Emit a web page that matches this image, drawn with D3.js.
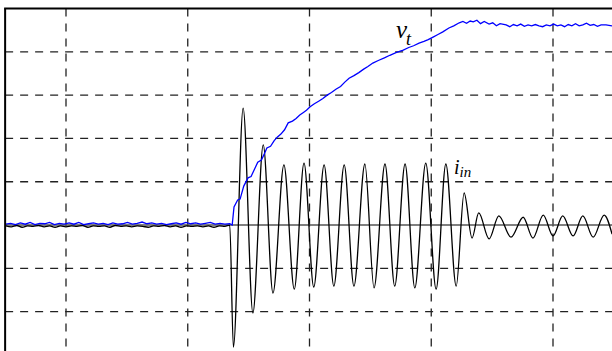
<!DOCTYPE html>
<html lang="en">
<head>
    <meta charset="UTF-8">
    <title>vt / iin</title>
    <script src="https://d3js.org/d3.v7.min.js"></script>
    <style>
        body { margin: 0; background: #fff; }
        .lbl { font-family: "Liberation Serif", "Times New Roman", "DejaVu Serif", serif; font-style: italic; }
    </style>
</head>
<body>
<script>
    // 网格刻度（时间：格, 幅值：格）
    var timeTicks = [0, 20, 40, 60, 80];
    var levelTicks = [-2, -1, 1, 2, 3, 4];

    // v_t 曲线 [t, v]
    var vtPoints = [
        [-9.9, 0.02], [-9.1, 0.04], [-8.3, 0.01], [-7.5, 0.05], [-6.7, 0.02], [-5.9, 0.06], [-5.1, 0.01],
        [-4.3, 0.04], [-3.5, 0.03], [-2.7, 0.06], [-1.9, 0.01], [-1.1, 0.04], [-0.3, 0.02], [0.5, 0.05],
        [1.3, 0.02], [2.1, 0.06], [2.9, 0.01], [3.7, 0.03], [4.5, 0.05], [5.3, 0.02], [6.1, 0.04],
        [6.9, 0.01], [7.7, 0.05], [8.5, 0.02], [9.3, 0.03], [10.1, 0.06], [10.9, 0.02], [11.7, 0.04],
        [12.5, 0.07], [13.3, 0.03], [14.1, 0.05], [14.9, 0.02], [15.7, 0.04], [16.5, 0.01], [17.3, 0.03],
        [18.1, 0.05], [18.9, 0.02], [19.7, 0.06], [20.5, 0.03], [21.3, 0.05], [22.1, 0.02], [22.9, 0.04],
        [23.7, 0.06], [24.5, 0.02], [25.3, 0.04], [26.1, 0.02], [26.9, 0.03], [27.3, 0.0],
        [27.6, 0.42], [28.2, 0.58], [28.6, 0.6], [29.2, 0.9], [29.9, 1.09], [30.4, 1.12], [31.0, 1.3],
        [31.5, 1.45], [32.1, 1.5], [32.5, 1.62], [33.0, 1.78], [33.6, 1.82], [34.2, 1.95], [34.7, 2.03],
        [35.3, 2.1], [35.9, 2.2], [36.5, 2.36], [37.2, 2.4], [37.8, 2.46], [38.4, 2.54], [39.0, 2.6],
        [39.5, 2.65], [40.1, 2.73], [40.8, 2.8], [41.5, 2.86], [42.2, 2.92], [42.9, 3.0], [43.6, 3.06],
        [44.4, 3.14], [45.1, 3.2], [45.8, 3.3], [46.5, 3.39], [47.3, 3.45], [48.1, 3.52], [48.9, 3.6],
        [49.6, 3.66], [50.4, 3.74], [51.3, 3.8], [52.3, 3.86], [53.2, 3.92], [54.2, 3.98], [55.4, 4.04],
        [56.3, 4.1], [57.1, 4.14], [58.0, 4.2], [58.8, 4.24], [59.5, 4.28], [60.3, 4.34], [61.1, 4.4],
        [61.9, 4.46], [62.9, 4.55], [63.7, 4.6], [64.6, 4.67], [65.2, 4.7], [65.8, 4.66], [66.4, 4.71],
        [66.9, 4.69], [67.5, 4.73], [68.1, 4.65], [68.7, 4.7], [69.5, 4.64], [70.1, 4.67], [70.7, 4.6],
        [71.3, 4.65], [72.3, 4.62], [72.9, 4.58], [73.5, 4.63], [74.1, 4.6], [74.7, 4.64], [75.3, 4.59],
        [75.9, 4.62], [76.5, 4.6], [77.1, 4.63], [77.7, 4.6], [78.3, 4.58], [78.9, 4.62], [79.5, 4.6],
        [80.1, 4.64], [80.7, 4.6], [81.3, 4.62], [81.9, 4.58], [82.5, 4.63], [83.1, 4.6], [83.7, 4.65],
        [84.3, 4.6], [84.9, 4.62], [85.5, 4.66], [86.1, 4.61], [86.7, 4.63], [87.3, 4.59], [87.9, 4.62],
        [88.7, 4.62], [89.7, 4.6]
    ];

    // i_in 曲线 [t, v]
    var iinPoints = [
        [-9.9, -0.02], [-9.0, -0.04], [-8.1, -0.01], [-7.2, -0.05], [-6.3, -0.02], [-5.4, -0.03], [-4.5, -0.01],
        [-3.6, -0.04], [-2.7, -0.02], [-1.8, -0.05], [-0.9, -0.02], [0.0, -0.04], [0.9, -0.02], [1.8, -0.03],
        [2.7, -0.01], [3.6, -0.05], [4.5, -0.02], [5.4, -0.03], [6.3, -0.02], [7.2, -0.05], [8.1, -0.01],
        [9.0, -0.03], [9.9, -0.02], [10.8, -0.04], [11.7, -0.02], [12.6, -0.03], [13.5, -0.05], [14.4, -0.02],
        [15.3, -0.03], [16.2, -0.01], [17.1, -0.04], [18.0, -0.02], [18.9, -0.05], [19.8, -0.02], [20.7, -0.03],
        [21.6, -0.02], [22.5, -0.04], [23.4, -0.02], [24.3, -0.05], [25.2, -0.02], [26.1, -0.03], [26.9, 0.0],
        [27.5, -2.82], [29.1, 2.7], [30.7, -2.03], [32.4, 1.85], [34.0, -1.57], [35.8, 1.39],
        [37.5, -1.48], [39.1, 1.43], [40.7, -1.43], [42.4, 1.39], [44.0, -1.41], [45.7, 1.39],
        [47.3, -1.41], [49.1, 1.41], [50.6, -1.45], [52.4, 1.41], [54.0, -1.41], [55.7, 1.41],
        [57.3, -1.45], [59.1, 1.43], [60.8, -1.48], [62.4, 1.41], [64.1, -1.41], [65.4, 0.74],
        [66.7, -0.3], [67.8, 0.28], [69.5, -0.32], [71.1, 0.21], [73.1, -0.28], [75.1, 0.18],
        [76.7, -0.3], [78.4, 0.23], [80.0, -0.25], [81.6, 0.21], [83.3, -0.25], [84.9, 0.21],
        [86.6, -0.28], [88.4, 0.23], [89.7, -0.21]
    ];

    var width = 612;  // SVG宽度
    var height = 351; // SVG高度

    var svg = d3.select('body').append('svg').attr('width', width).attr('height', height);

    // 比例尺：每格 20 个时间单位, 幅值每格 1
    var x = d3.scaleLinear().domain([0, 80]).range([66, 553]);
    var y = d3.scaleLinear().domain([-3, 5]).range([355, 8.5]);

    var plotLeft = x(-10), plotTop = y(5);

    // 裁剪区域
    svg.append('clipPath').attr('id', 'plot')
        .append('rect').attr('x', plotLeft).attr('y', plotTop)
        .attr('width', width - plotLeft).attr('height', height - plotTop);

    // 虚线网格
    svg.selectAll('.vgrid').data(timeTicks).enter().append('line')
        .attr('x1', d => x(d)).attr('x2', d => x(d))
        .attr('y1', plotTop).attr('y2', height)
        .attr('stroke', '#222').attr('stroke-width', 1.3).attr('stroke-dasharray', '8,7');
    svg.selectAll('.hgrid').data(levelTicks).enter().append('line')
        .attr('x1', plotLeft).attr('x2', width)
        .attr('y1', d => y(d)).attr('y2', d => y(d))
        .attr('stroke', '#222').attr('stroke-width', 1.3).attr('stroke-dasharray', '8,7');

    // 零线
    svg.append('line')
        .attr('x1', plotLeft).attr('x2', width).attr('y1', y(0)).attr('y2', y(0))
        .attr('stroke', '#555').attr('stroke-width', 1.5);

    var g = svg.append('g').attr('clip-path', 'url(#plot)');

    // i_in 黑色曲线
    g.append('path').datum(iinPoints)
        .attr('fill', 'none').attr('stroke', '#000').attr('stroke-width', 1.3)
        .attr('d', d3.line().x(d => x(d[0])).y(d => y(d[1])).curve(d3.curveMonotoneX));

    // v_t 蓝色曲线
    g.append('path').datum(vtPoints)
        .attr('fill', 'none').attr('stroke', '#0000ff').attr('stroke-width', 1.3)
        .attr('d', d3.line().x(d => x(d[0])).y(d => y(d[1])));

    // 边框（左、上）
    svg.append('line').attr('x1', plotLeft).attr('x2', plotLeft).attr('y1', plotTop).attr('y2', height)
        .attr('stroke', '#000').attr('stroke-width', 2);
    svg.append('line').attr('x1', plotLeft - 1).attr('x2', width).attr('y1', plotTop).attr('y2', plotTop)
        .attr('stroke', '#000').attr('stroke-width', 2);

    // 标签
    var vt = svg.append('text').attr('class', 'lbl').attr('x', 396).attr('y', 38).attr('font-size', 25);
    vt.append('tspan').text('v');
    vt.append('tspan').attr('font-size', 18).attr('dy', 7).attr('dx', -1).text('t');

    var iin = svg.append('text').attr('class', 'lbl').attr('x', 454).attr('y', 174).attr('font-size', 20);
    iin.append('tspan').text('i');
    iin.append('tspan').attr('font-size', 15).attr('dy', 3).text('in');
</script>
</body>
</html>
